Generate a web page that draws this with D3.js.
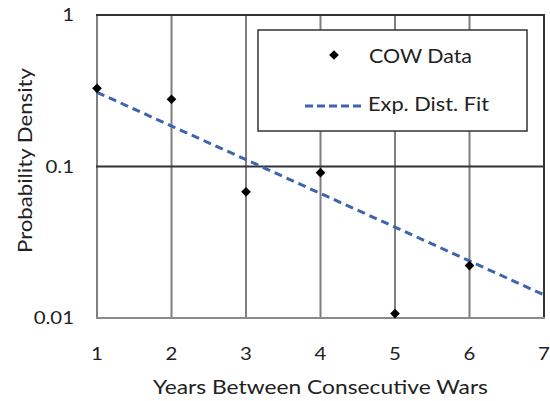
<!DOCTYPE html>
<html><head><meta charset="utf-8">
<script src="https://cdn.jsdelivr.net/npm/d3@7"></script>
<style>body{margin:0;background:#fff}svg{display:block}text{font-family:Lato,"Open Sans",sans-serif;fill:#222}</style>
</head><body><svg id="c" width="550" height="401"></svg>
<script>
const years = [1, 2, 3, 4, 5, 6];
const cowData = [0.328, 0.278, 0.068, 0.091, 0.0107, 0.0222];
const fitYears = [1, 2, 3, 4, 5, 6, 7];
const fitValues = [0.309, 0.185, 0.111, 0.0664, 0.0398, 0.0238, 0.0142];
const xTicks = [1, 2, 3, 4, 5, 6, 7];
const yTicks = [1, 0.1, 0.01];
const yTickLabels = ["1", "0.1", "0.01"];

const svg = d3.select("#c");
const L = 97, R = 544, T = 15, B = 318;
const x = d3.scaleLinear().domain([1, 7]).range([L, R]);
const y = d3.scaleLog().domain([0.01, 1]).range([B, T]);

// vertical grid
svg.append("g").selectAll("line").data(xTicks).join("line")
  .attr("x1", d => x(d)).attr("x2", d => x(d)).attr("y1", T).attr("y2", B)
  .attr("stroke", d => d === 7 ? "#333" : "#7f7f7f").attr("stroke-width", 2);
// horizontal grid
svg.append("g").selectAll("line").data(yTicks).join("line")
  .attr("x1", L - 1).attr("x2", R + 1).attr("y1", d => y(d)).attr("y2", d => y(d))
  .attr("stroke", d => d === 0.01 ? "#8a8a8a" : "#333").attr("stroke-width", 2);

// y tick labels
svg.append("g").selectAll("text").data(yTicks).join("text")
  .attr("transform", d => `translate(74,${y(d) + 6}) scale(1.2,1)`).attr("text-anchor", "end")
  .attr("font-size", 17).text((d, i) => yTickLabels[i]);
// x tick labels
svg.append("g").selectAll("text").data(xTicks).join("text")
  .attr("transform", d => `translate(${x(d)},360) scale(1.2,1)`).attr("text-anchor", "middle")
  .attr("font-size", 17).text(d => d);

svg.append("text").attr("x", 153).attr("y", 394)
  .attr("font-size", 19).attr("textLength", 335).attr("lengthAdjust", "spacingAndGlyphs")
  .text("Years Between Consecutive Wars");
svg.append("text").attr("transform", "translate(32,253) rotate(-90)")
  .attr("font-size", 19).attr("textLength", 185).attr("lengthAdjust", "spacingAndGlyphs")
  .text("Probability Density");

// fit line
const line = d3.line().x((d, i) => x(fitYears[i])).y(d => y(d));
svg.append("path").datum(fitValues).attr("d", line).attr("fill", "none")
  .attr("stroke", "#3d64ad").attr("stroke-width", 3).attr("stroke-dasharray", "8,5");

// diamonds
const diamond = d3.symbol().type(d3.symbolDiamond2).size(60);
svg.append("g").selectAll("path").data(cowData).join("path")
  .attr("transform", (d, i) => `translate(${x(years[i])},${y(d)})`)
  .attr("d", diamond).attr("fill", "#000");

// legend
const lg = svg.append("g");
lg.append("rect").attr("x", 258).attr("y", 30).attr("width", 269).attr("height", 101)
  .attr("fill", "#fff").attr("stroke", "#333").attr("stroke-width", 1.5);
lg.append("path").attr("transform", "translate(334,55)").attr("d", diamond).attr("fill", "#000");
lg.append("text").attr("x", 369).attr("y", 63).attr("font-size", 19)
  .attr("textLength", 103).attr("lengthAdjust", "spacingAndGlyphs").text("COW Data");
lg.append("line").attr("x1", 305).attr("x2", 363).attr("y1", 106).attr("y2", 106)
  .attr("stroke", "#3d64ad").attr("stroke-width", 3).attr("stroke-dasharray", "8,4");
lg.append("text").attr("x", 368).attr("y", 111).attr("font-size", 19)
  .attr("textLength", 121).attr("lengthAdjust", "spacingAndGlyphs").text("Exp. Dist. Fit");
</script></body></html>
